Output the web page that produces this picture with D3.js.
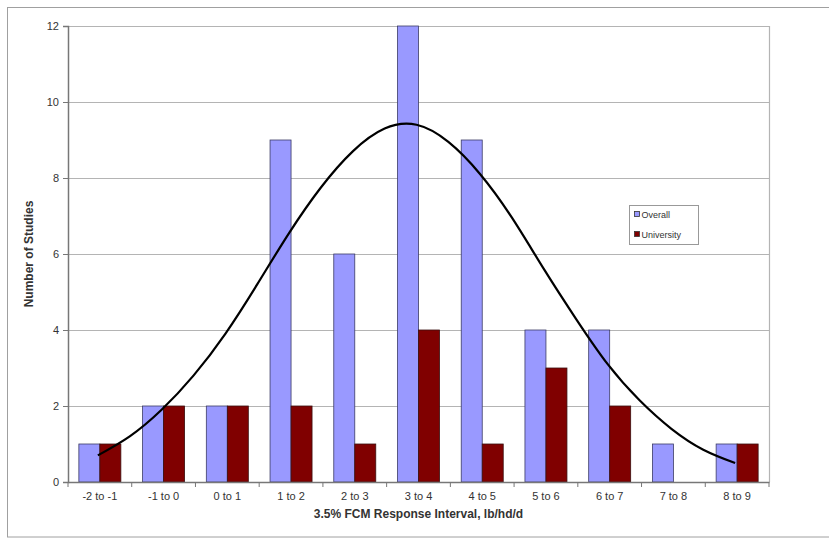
<!DOCTYPE html>
<html>
<head>
<meta charset="utf-8">
<script src="https://cdn.jsdelivr.net/npm/d3@7"></script>
<style>
  body { margin: 0; background: #fff; }
  svg { display: block; font-family: Arial, "Liberation Sans", sans-serif; }
</style>
</head>
<body>
<svg id="chart" width="829" height="541"></svg>
<script>
// categories and series
let categories = ['-2 to -1', '-1 to 0', '0 to 1', '1 to 2', '2 to 3', '3 to 4', '4 to 5', '5 to 6', '6 to 7', '7 to 8', '8 to 9'];
let overall = [1, 2, 2, 9, 6, 12, 9, 4, 4, 1, 1];
let university = [1, 2, 2, 2, 1, 4, 1, 3, 2, 0, 1];
let series_names = ['Overall', 'University'];
// smooth curve, position in category units (0 = first category centre)
let curve_x = [0, 0.5, 1, 1.5, 2, 2.5, 3, 3.5, 4, 4.5, 5, 5.5, 6, 6.5, 7, 7.5, 8, 8.5, 9, 9.5, 10];
let curve_y = [0.7, 1.2, 1.9, 2.8, 3.9, 5.2, 6.55, 7.75, 8.7, 9.3, 9.4, 8.95, 8.1, 6.95, 5.6, 4.3, 3.1, 2.15, 1.4, 0.85, 0.5];
let y_ticks = [0, 2, 4, 6, 8, 10, 12];

let svg = d3.select('#chart');
let plot_left = 68, plot_top = 26, plot_right = 769, plot_bottom = 482;

// outer frame
svg.append('rect').attr('x', 7.5).attr('y', 7.5).attr('width', 830).attr('height', 529.5)
  .attr('fill', 'none').attr('stroke', '#a0a0a0').attr('stroke-width', 1);

let x = d3.scaleBand().domain(categories).range([plot_left, plot_right]).paddingInner(0).paddingOuter(0);
let y = d3.scaleLinear().domain([0, 12]).range([plot_bottom, plot_top]);
let inner = d3.scaleBand().domain(series_names).range([x.bandwidth() / 2 - 21, x.bandwidth() / 2 + 21]);
let cx = d3.scaleLinear().domain([0, categories.length - 1])
  .range([x(categories[0]) + x.bandwidth() / 2 - 2, x(categories[categories.length - 1]) + x.bandwidth() / 2 - 2]);

// grid lines
svg.append('g').selectAll('line').data(y_ticks.filter(d => d > 0)).enter().append('line')
  .attr('x1', plot_left).attr('x2', plot_right)
  .attr('y1', d => Math.round(y(d)) + 0.5).attr('y2', d => Math.round(y(d)) + 0.5)
  .attr('stroke', '#b4b4b4').attr('stroke-width', 1.2);
svg.append('line').attr('x1', plot_right + 0.5).attr('x2', plot_right + 0.5).attr('y1', plot_top).attr('y2', plot_bottom)
  .attr('stroke', '#b4b4b4').attr('stroke-width', 1.2);

// bars
let groups = svg.append('g').selectAll('.grp').data(categories).enter().append('g').attr('class', 'grp')
  .attr('transform', d => 'translate(' + x(d) + ',0)');
groups.append('rect')
  .attr('x', inner('Overall')).attr('width', inner.bandwidth())
  .attr('y', (d, i) => y(overall[i])).attr('height', (d, i) => plot_bottom - y(overall[i]))
  .attr('fill', '#9999ff').attr('stroke', '#3c3c66').attr('stroke-width', 0.8);
groups.filter((d, i) => university[i] > 0).append('rect')
  .attr('x', inner('University')).attr('width', inner.bandwidth())
  .attr('y', d => y(university[categories.indexOf(d)])).attr('height', d => plot_bottom - y(university[categories.indexOf(d)]))
  .attr('fill', '#800000').attr('stroke', '#3a1010').attr('stroke-width', 0.8);

// fitted curve
let line = d3.line().x((d, i) => cx(curve_x[i])).y(d => y(d)).curve(d3.curveNatural);
svg.append('path').datum(curve_y).attr('d', line)
  .attr('fill', 'none').attr('stroke', '#000').attr('stroke-width', 2.2);

// axes
let yAxis = svg.append('g').attr('transform', 'translate(' + plot_left + ',0)')
  .call(d3.axisLeft(y).tickValues(y_ticks).tickSize(5).tickPadding(4).tickFormat(d3.format('d')));
yAxis.select('.domain').attr('stroke', '#777').attr('stroke-width', 1.5);
yAxis.selectAll('line').attr('stroke', '#777');
yAxis.selectAll('text').attr('font-size', 11).attr('fill', '#333').attr('font-family', 'Arial, sans-serif');

let xAxis = svg.append('g').attr('transform', 'translate(0,' + plot_bottom + ')')
  .call(d3.axisBottom(x).tickSize(0).tickPadding(10));
xAxis.select('.domain').attr('stroke', '#777').attr('stroke-width', 1.5);
xAxis.selectAll('text').attr('font-size', 11).attr('fill', '#333').attr('font-family', 'Arial, sans-serif');
svg.append('g').selectAll('line').data(categories.concat(['end'])).enter().append('line')
  .attr('x1', (d, i) => plot_left + i * x.bandwidth()).attr('x2', (d, i) => plot_left + i * x.bandwidth())
  .attr('y1', plot_bottom).attr('y2', plot_bottom + 5).attr('stroke', '#777').attr('stroke-width', 1);

// titles
svg.append('text').attr('x', (plot_left + plot_right) / 2).attr('y', 518).attr('text-anchor', 'middle')
  .attr('font-size', 12).attr('font-weight', 'bold').attr('fill', '#333')
  .text('3.5% FCM Response Interval, lb/hd/d');
svg.append('text').attr('transform', 'translate(33,' + ((plot_top + plot_bottom) / 2) + ') rotate(-90)')
  .attr('text-anchor', 'middle').attr('font-size', 12).attr('font-weight', 'bold').attr('fill', '#333')
  .text('Number of Studies');

// legend
let lg = svg.append('g').attr('transform', 'translate(629.5,205.5)');
lg.append('rect').attr('width', 69).attr('height', 39).attr('fill', '#fff').attr('stroke', '#999');
let colors = ['#9999ff', '#800000'];
series_names.forEach((s, i) => {
  lg.append('rect').attr('x', 5).attr('y', 6 + i * 20).attr('width', 5).attr('height', 5)
    .attr('fill', colors[i]).attr('stroke', '#333').attr('stroke-width', 0.8);
  lg.append('text').attr('x', 12).attr('y', 12 + i * 20).attr('font-size', 9).attr('fill', '#333').text(s);
});
</script>
</body>
</html>
